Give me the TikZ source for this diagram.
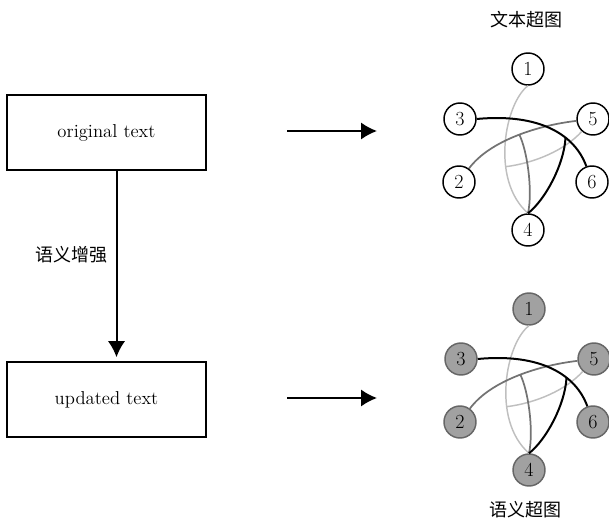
\documentclass[tikz,border=0pt]{standalone}
\usepackage{fontspec}
\newfontfamily\cjk{Noto Sans CJK SC}
\usetikzlibrary{arrows.meta}

\tikzset{
  txtbox/.style={draw,line width=1.5pt,minimum width=149pt,minimum height=56pt,
    font=\fontsize{14}{16}\selectfont},
  vtx/.style={circle,draw,line width=1.1pt,fill=white,minimum size=24pt,inner sep=0pt,
    font=\fontsize{15}{17}\selectfont},
  svtx/.style={vtx,draw=black!60,fill=black!37},
  lightedge/.style={black!25,line width=1.1pt},
  midedge/.style={black!55,line width=1.3pt},
  darkedge/.style={black,line width=1.5pt},
  cjklabel/.style={font=\cjk\fontsize{13.5}{16}\selectfont},
}

% one hypergraph: #1 = name prefix, #2 = vertex style
\newcommand{\hgraph}[2]{%
  \node[#2] (#11) at (528,-69) {1};
  \node[#2] (#13) at (460,-119) {3};
  \node[#2] (#15) at (593,-119) {5};
  \node[#2] (#12) at (459,-182) {2};
  \node[#2] (#16) at (592,-182) {6};
  \node[#2] (#14) at (528,-230) {4};
  % edge {1,4,5}
  \draw[lightedge] (#11.south) .. controls (505,-103) and (490,-180) .. coordinate[pos=0.65] (#1jl) (#14.north);
  \draw[lightedge] (#1jl) .. controls (535,-163) and (565,-150) .. (#15);
  % edge {2,5,4}
  \draw[midedge] (#12) .. controls (490,-140) and (540,-125) .. coordinate[pos=0.52] (#1jm) (#15);
  \draw[midedge] (#1jm) .. controls (527,-150) and (533,-190) .. (#14.north);
  % edge {3,6,4}
  \draw[darkedge] (#13.east) .. controls (540,-113) and (575,-135) .. coordinate[pos=0.65] (#1jb) (#16);
  \draw[darkedge] (#1jb) .. controls (564,-165) and (545,-200) .. (#14.north);
}

\begin{document}
\begin{tikzpicture}[x=0.75pt,y=0.75pt,>={Latex[length=12pt,width=13pt]}]
  \useasboundingbox (0,0) rectangle (609,-523);

  % text boxes
  \node[txtbox] (orig) at (106.5,-132.5) {original text};
  \node[txtbox] (upd) at (106.5,-399.5) {updated text};
  \draw[->,line width=1.5pt,shorten >=3pt] ([xshift=7.5pt]orig.south) -- ([xshift=7.5pt]upd.north);
  \node[cjklabel] (enh) at (71,-255) {语义增强};

  % arrows towards the graphs
  \coordinate (ta) at (287,-131);
  \coordinate (tb) at (377,-131);
  \coordinate (ua) at (287,-398);
  \coordinate (ub) at (377,-398);
  \draw[->,line width=1.5pt] (ta) -- (tb);
  \draw[->,line width=1.5pt] (ua) -- (ub);

  % text hypergraph
  \node[cjklabel] (ttl) at (526,-20) {文本超图};
  \hgraph{t}{vtx}

  % semantic hypergraph
  \begin{scope}[shift={(1,-240)}]
    \hgraph{s}{svtx}
  \end{scope}
  \node[cjklabel] (stl) at (525,-510) {语义超图};
\end{tikzpicture}
\end{document}
